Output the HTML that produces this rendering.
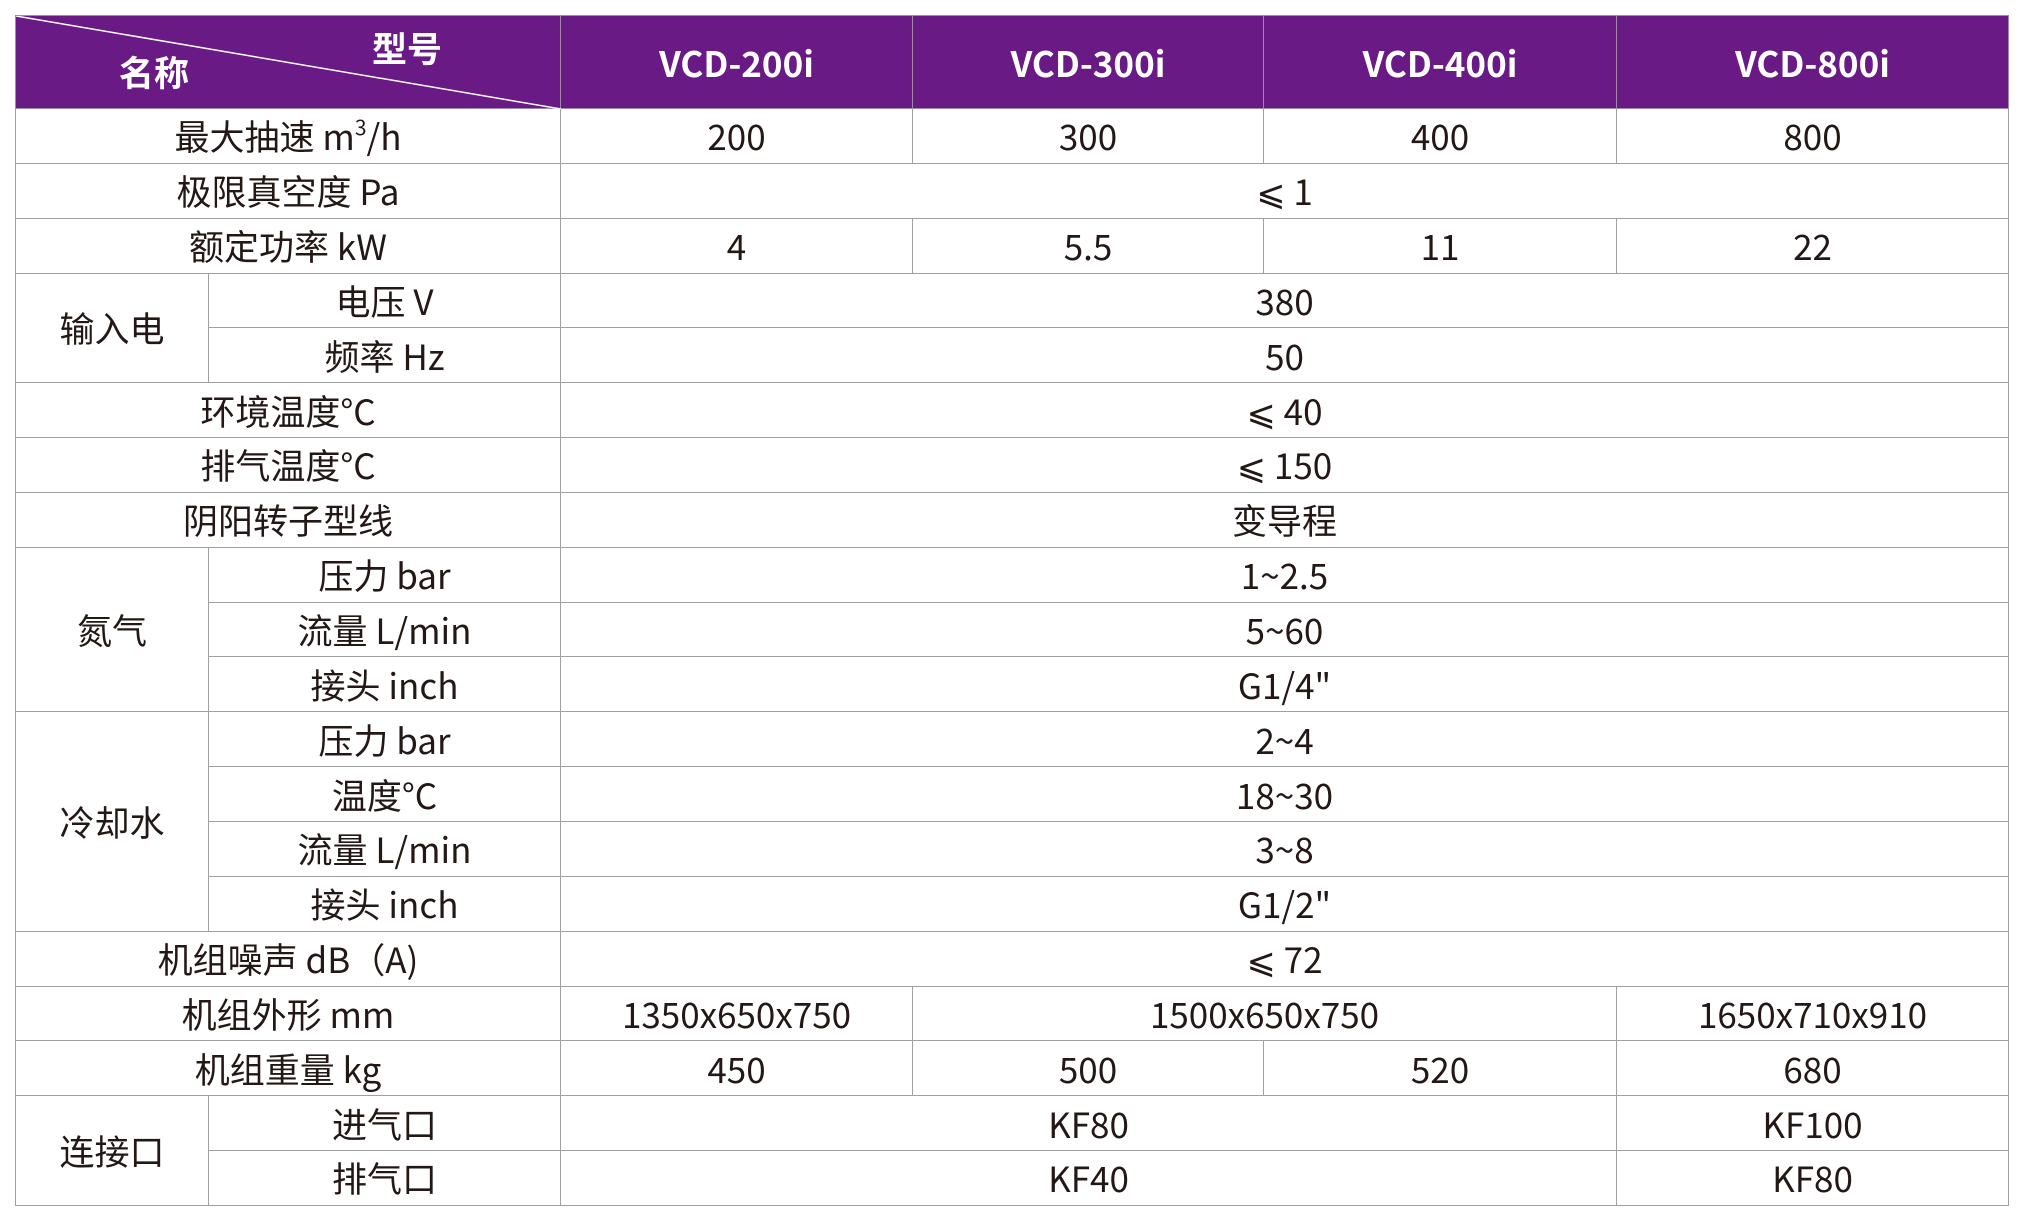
<!DOCTYPE html>
<html><head><meta charset="utf-8"><style>
html,body{margin:0;padding:0;background:#fff;width:2023px;height:1221px;overflow:hidden}
table{position:absolute;left:15px;top:15px;border-collapse:collapse;table-layout:fixed;width:1993px;font-family:"Noto Sans CJK SC","Liberation Sans",sans-serif;font-size:35px;color:#231815}
td{border:1.5px solid #a0a0a0;text-align:center;vertical-align:middle;padding:0;height:53.85px;line-height:1;white-space:nowrap}
tr.h td{background:#6a1a84;color:#fff;font-weight:bold;height:92px;border-color:#a08aa8}
.d{position:relative}
sup{font-size:21px;vertical-align:15px;line-height:0}
</style></head><body>
<table>
<colgroup><col style="width:193px"><col style="width:352px"><col style="width:352px"><col style="width:351px"><col style="width:353px"><col style="width:392px"></colgroup>
<tr class="h"><td colspan="2" class="d"><svg style="position:absolute;left:0;top:0" width="545" height="93"><line x1="0" y1="0" x2="545" y2="93" stroke="#fff" stroke-width="1.5"/></svg><span style="position:absolute;left:103px;top:38px">名称</span><span style="position:absolute;left:356px;top:14px">型号</span></td><td>VCD-200i</td><td>VCD-300i</td><td>VCD-400i</td><td>VCD-800i</td></tr>
<tr><td colspan="2">最大抽速 m<sup>3</sup>/h</td><td>200</td><td>300</td><td>400</td><td>800</td></tr>
<tr><td colspan="2">极限真空度 Pa</td><td colspan="4">⩽ 1</td></tr>
<tr><td colspan="2">额定功率 kW</td><td>4</td><td>5.5</td><td>11</td><td>22</td></tr>
<tr><td rowspan="2">输入电</td><td>电压 V</td><td colspan="4">380</td></tr>
<tr><td>频率 Hz</td><td colspan="4">50</td></tr>
<tr><td colspan="2">环境温度°C</td><td colspan="4">⩽ 40</td></tr>
<tr><td colspan="2">排气温度°C</td><td colspan="4">⩽ 150</td></tr>
<tr><td colspan="2">阴阳转子型线</td><td colspan="4">变导程</td></tr>
<tr><td rowspan="3">氮气</td><td>压力 bar</td><td colspan="4">1~2.5</td></tr>
<tr><td>流量 L/min</td><td colspan="4">5~60</td></tr>
<tr><td>接头 inch</td><td colspan="4">G1/4"</td></tr>
<tr><td rowspan="4">冷却水</td><td>压力 bar</td><td colspan="4">2~4</td></tr>
<tr><td>温度°C</td><td colspan="4">18~30</td></tr>
<tr><td>流量 L/min</td><td colspan="4">3~8</td></tr>
<tr><td>接头 inch</td><td colspan="4">G1/2"</td></tr>
<tr><td colspan="2">机组噪声 dB（A)</td><td colspan="4">⩽ 72</td></tr>
<tr><td colspan="2">机组外形 mm</td><td>1350x650x750</td><td colspan="2">1500x650x750</td><td>1650x710x910</td></tr>
<tr><td colspan="2">机组重量 kg</td><td>450</td><td>500</td><td>520</td><td>680</td></tr>
<tr><td rowspan="2">连接口</td><td>进气口</td><td colspan="3">KF80</td><td>KF100</td></tr>
<tr><td>排气口</td><td colspan="3">KF40</td><td>KF80</td></tr>
</table>
</body></html>
